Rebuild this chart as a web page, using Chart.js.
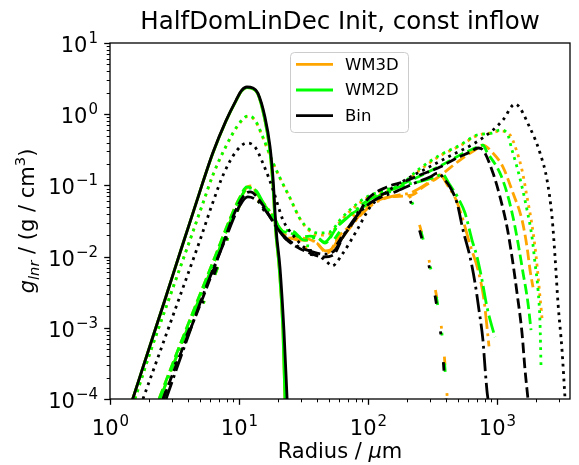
<!DOCTYPE html>
<html>
<head>
<meta charset="utf-8">
<script src="https://cdn.jsdelivr.net/npm/chart.js@4.4.0/dist/chart.umd.min.js"></script>
<style>
  html, body { margin: 0; padding: 0; background: #fff; }
</style>
</head>
<body>
<canvas id="sizeChart" width="579" height="465"></canvas>
<script>
// radius in um, g_lnr in g/cm^3

// solid
const rBinSolid = [1.5, 2.0, 2.67, 3.55, 4.72, 5.25, 6.28, 7.9, 9.5, 10.5, 11.5, 12.8, 14.0, 15.9, 17.4, 18.4, 19.4, 20.8, 22.3, 23.6];
const gBinSolid = [1.0e-4, 5.0e-4, 2.5e-3, 0.0125, 0.061, 0.111, 0.29, 0.80, 1.58, 2.17, 2.41, 2.33, 1.98, 0.91, 0.35, 0.119, 0.024, 0.0069, 9.3e-4, 1.0e-4];
const rWm2dSolid = [1.5, 2.0, 2.67, 3.55, 4.72, 5.25, 6.28, 7.9, 9.5, 10.5, 11.5, 12.8, 14.0, 15.7, 17.2, 18.2, 19.2, 20.5, 21.9, 22.7];
const gWm2dSolid = [1.0e-4, 5.0e-4, 2.5e-3, 0.0125, 0.061, 0.111, 0.285, 0.79, 1.55, 2.12, 2.36, 2.28, 1.93, 0.91, 0.35, 0.119, 0.024, 0.0069, 9.3e-4, 1.0e-4];
const rWm3dSolid = [1.5, 2.0, 2.67, 3.55, 4.72, 5.25, 6.28, 7.9, 9.5, 10.5, 11.5, 12.8, 14.0, 15.7, 17.2, 18.2, 19.2, 20.5, 21.9, 22.7];
const gWm3dSolid = [1.0e-4, 5.0e-4, 2.5e-3, 0.0125, 0.061, 0.111, 0.285, 0.79, 1.55, 2.12, 2.36, 2.28, 1.93, 0.91, 0.35, 0.119, 0.024, 0.0069, 9.3e-4, 1.0e-4];

// dotted
const rBinDot = [1.80, 2.44, 3.49, 4.99, 6.17, 7.65, 9.5, 11.5, 13.3, 15.3, 18.4, 20.0, 21.9, 26.2, 32.5, 38.8, 48.1, 52.6, 64.0, 82.2, 104, 136, 194, 287, 432, 675, 931, 1113, 1380, 1803, 2155, 2443, 2670, 2818, 2972, 3190, 3370];
const gBinDot = [1.0e-4, 4.6e-4, 2.8e-3, 0.0171, 0.053, 0.149, 0.30, 0.394, 0.346, 0.206, 0.086, 0.053, 0.0327, 0.0201, 0.0132, 0.0115, 0.0084, 0.0074, 0.0112, 0.0236, 0.0497, 0.078, 0.119, 0.175, 0.259, 0.394, 0.60, 0.83, 1.39, 0.64, 0.285, 0.119, 0.036, 0.0099, 0.0022, 4.9e-4, 1.0e-4];
const rWm2dDot = [1.56, 2.04, 2.92, 4.17, 5.26, 6.28, 7.79, 9.82, 11.7, 13.3, 15.3, 18.0, 20.8, 24.9, 29.7, 34.3, 41.0, 50.7, 60.7, 75, 98, 136, 177, 253, 362, 517, 700, 915, 1055, 1196, 1307, 1429, 1563, 1709, 1868, 1971, 2080, 2155, 2194];
const gWm2dDot = [1.0e-4, 4.4e-4, 2.8e-3, 0.0171, 0.057, 0.141, 0.334, 0.705, 0.944, 0.83, 0.478, 0.227, 0.127, 0.066, 0.034, 0.025, 0.0215, 0.0222, 0.0327, 0.048, 0.069, 0.086, 0.101, 0.174, 0.267, 0.369, 0.51, 0.544, 0.60, 0.544, 0.314, 0.181, 0.095, 0.045, 0.0188, 0.0081, 0.0034, 0.00117, 2.8e-4];
const rWm3dDot = [1.56, 2.04, 2.92, 4.17, 5.26, 6.28, 7.79, 9.82, 11.7, 13.3, 15.3, 18.0, 20.8, 24.9, 29.7, 34.3, 41.0, 50.7, 60.7, 75, 98, 136, 177, 253, 362, 517, 700, 915, 1055, 1262, 1429, 1563, 1709, 1868, 2005, 2155, 2233];
const gWm3dDot = [1.0e-4, 4.4e-4, 2.8e-3, 0.0171, 0.056, 0.139, 0.33, 0.69, 0.93, 0.82, 0.47, 0.225, 0.126, 0.066, 0.034, 0.024, 0.020, 0.021, 0.031, 0.046, 0.066, 0.082, 0.097, 0.165, 0.26, 0.36, 0.50, 0.55, 0.58, 0.51, 0.294, 0.164, 0.069, 0.0278, 0.0105, 0.0027, 0.00137];

// dashed
const rBinDash = [2.58, 3.49, 4.99, 7.12, 9.31, 11.1, 12.2, 15.3, 18.4, 22.7, 28.2, 35.5, 44.8, 53.6, 64, 82, 98, 140, 187, 253, 362, 490, 618, 713, 778, 931, 1055, 1196, 1307, 1429, 1563, 1648, 1738];
const gBinDash = [1.0e-4, 4.15e-4, 0.0021, 0.0115, 0.0423, 0.075, 0.081, 0.053, 0.0306, 0.0182, 0.0136, 0.0112, 0.0099, 0.0105, 0.0188, 0.036, 0.0624, 0.095, 0.112, 0.140, 0.181, 0.243, 0.294, 0.335, 0.314, 0.149, 0.069, 0.026, 0.0099, 0.0031, 8.4e-4, 2.6e-4, 1.0e-4];
const rWm2dDash = [2.40, 3.19, 4.56, 6.51, 8.51, 10.2, 11.5, 13.3, 15.3, 18.4, 20.8, 24.9, 29.7, 35.5, 41.0, 46.4, 57.5, 72.5, 91.5, 124, 177, 253, 362, 517, 675, 778, 836, 1055, 1196, 1330, 1455, 1592, 1738, 1835];
const gWm2dDash = [1.0e-4, 3.8e-4, 0.00196, 0.0099, 0.0337, 0.069, 0.095, 0.086, 0.0566, 0.036, 0.0236, 0.0215, 0.0188, 0.0194, 0.0182, 0.0155, 0.026, 0.0384, 0.0497, 0.073, 0.101, 0.1355, 0.187, 0.267, 0.335, 0.369, 0.294, 0.149, 0.078, 0.036, 0.0155, 0.0059, 0.00223, 9.3e-4];
const rWm3dDash = [2.40, 3.19, 4.56, 6.51, 8.51, 10.2, 12.2, 15.3, 18.4, 20.8, 24.9, 31.3, 40.2, 48.1, 60.7, 76.5, 98, 148, 219, 267, 343, 517, 675, 778, 915, 1113, 1330, 1563, 1709, 1803, 1901];
const gWm3dDash = [1.0e-4, 3.8e-4, 0.00196, 0.0099, 0.0337, 0.069, 0.098, 0.0566, 0.036, 0.0236, 0.0182, 0.0182, 0.0155, 0.0112, 0.0201, 0.0296, 0.0497, 0.069, 0.073, 0.095, 0.127, 0.227, 0.314, 0.369, 0.294, 0.181, 0.078, 0.0327, 0.0136, 0.0065, 0.0037];

// dash-dot
const rBinDashDot = [2.72, 3.81, 5.45, 7.79, 9.82, 11.7, 14.0, 17.4, 21.9, 28.2, 35.5, 46.4, 55.5, 66.3, 86.7, 113, 162, 231, 302, 349, 395, 432, 490, 545, 618, 675, 725, 778, 807, 836, 851];
const gBinDashDot = [1.0e-4, 5.7e-4, 0.0034, 0.0171, 0.0466, 0.069, 0.060, 0.036, 0.0201, 0.0141, 0.012, 0.0108, 0.0124, 0.0215, 0.0423, 0.0624, 0.081, 0.108, 0.131, 0.149, 0.119, 0.095, 0.0566, 0.0236, 0.0099, 0.0043, 0.00178, 6.7e-4, 2.8e-4, 1.3e-4, 1.0e-4];
const rWm2dDashDot = [2.44, 3.25, 4.67, 6.67, 8.7, 10.4, 11.7, 13.6, 15.6, 18.7, 21.2, 25.8, 32, 40, 46, 57.5, 72.5, 94.8, 136, 194, 277, 362, 375, 432, 500, 565, 640, 700, 765, 836, 915, 965];
const gWm2dDashDot = [1.0e-4, 3.8e-4, 0.002, 0.0099, 0.0337, 0.069, 0.092, 0.084, 0.055, 0.036, 0.024, 0.023, 0.017, 0.0185, 0.016, 0.026, 0.038, 0.058, 0.08, 0.101, 0.118, 0.14, 0.1445, 0.101, 0.0665, 0.0409, 0.0171, 0.0099, 0.0047, 0.00196, 0.00103, 7.4e-4];
const rWm3dDashDot = [2.44, 3.25, 4.67, 6.67, 8.7, 10.4, 12.0, 15.6, 18.7, 21.2, 25.8, 31, 38, 47, 55, 68, 85, 110, 148, 219, 300, 362, 417, 482, 545, 618, 713, 793, 836, 867];
const gWm3dDashDot = [1.0e-4, 3.8e-4, 0.002, 0.0099, 0.0337, 0.069, 0.094, 0.056, 0.035, 0.023, 0.018, 0.017, 0.0165, 0.012, 0.0135, 0.022, 0.036, 0.055, 0.069, 0.08, 0.112, 0.140, 0.098, 0.0624, 0.0327, 0.0146, 0.0065, 0.00246, 0.00103, 5.5e-4];

// loosely dash-dotted
const rBinLoose = [2.58, 3.25, 4.17, 5.65, 7.12, 9.31, 11.5, 14.0, 18.0, 23.6, 29.7, 38.8, 50.7, 66.3, 86.7, 113, 148, 187, 219, 253, 302, 343, 375, 402];
const gBinLoose = [1.0e-4, 3.3e-4, 0.001, 0.0031, 0.0095, 0.0384, 0.065, 0.0566, 0.0306, 0.0171, 0.0124, 0.0105, 0.0115, 0.0222, 0.045, 0.0665, 0.081, 0.086, 0.053, 0.0222, 0.0065, 0.0019, 5.5e-4, 1.0e-4];
const rWm2dLoose = [2.62, 3.3, 4.25, 5.75, 7.25, 9.5, 11.5, 14.2, 18.3, 24, 30, 39, 50, 64, 85, 112, 150, 190, 224, 258, 308, 350, 383, 410];
const gWm2dLoose = [1.0e-4, 3.3e-4, 0.001, 0.0031, 0.0095, 0.039, 0.08, 0.06, 0.033, 0.019, 0.015, 0.014, 0.015, 0.026, 0.048, 0.068, 0.082, 0.086, 0.053, 0.0222, 0.0065, 0.0019, 5.5e-4, 1.0e-4];
const rWm3dLoose = [2.62, 3.3, 4.25, 5.75, 7.25, 9.5, 11.8, 14.2, 18.3, 24, 30, 39, 50, 64, 85, 112, 150, 192, 226, 260, 310, 352, 385, 412];
const gWm3dLoose = [1.0e-4, 3.3e-4, 0.001, 0.0031, 0.0095, 0.039, 0.082, 0.06, 0.033, 0.019, 0.014, 0.013, 0.012, 0.024, 0.046, 0.066, 0.08, 0.084, 0.052, 0.022, 0.0064, 0.0019, 5.5e-4, 1.0e-4];

const legendNames = ['WM3D', 'WM2D', 'Bin'];
const chartTitle = 'HalfDomLinDec Init, const inflow';
const xMin = 1, xMax = 3680;
const yMin = 1e-4, yMax = 10;

const ORANGE = '#ffa500', GREEN = '#00ff00', BLACK = '#000000';
const LW = 2.8;
const dashStyles = {
  solid: [],
  dotted: [2.8, 4.6],
  dashed: [10.4, 4.5],
  dashdot: [17.9, 4.5, 2.8, 4.5],
  loose: [8.4, 28, 2.8, 28]
};

function toPoints(r, g) {
  return r.map((x, i) => ({ x: x, y: g[i] }));
}

function series(label, r, g, color, style, order) {
  return {
    label: label,
    data: toPoints(r, g),
    borderColor: color,
    backgroundColor: color,
    borderWidth: LW,
    borderDash: dashStyles[style],
    borderCapStyle: style === 'solid' ? 'square' : 'butt',
    borderJoinStyle: 'round',
    pointRadius: 0,
    cubicInterpolationMode: 'monotone',
    fill: false,
    order: order
  };
}

// orange under green under black
const datasets = [
  series('Bin', rBinSolid, gBinSolid, BLACK, 'solid', 0),
  series('Bin', rBinDot, gBinDot, BLACK, 'dotted', 0),
  series('Bin', rBinDash, gBinDash, BLACK, 'dashed', 0),
  series('Bin', rBinDashDot, gBinDashDot, BLACK, 'dashdot', 0),
  series('Bin', rBinLoose, gBinLoose, BLACK, 'loose', 0),
  series('WM2D', rWm2dSolid, gWm2dSolid, GREEN, 'solid', 1),
  series('WM2D', rWm2dDot, gWm2dDot, GREEN, 'dotted', 1),
  series('WM2D', rWm2dDash, gWm2dDash, GREEN, 'dashed', 1),
  series('WM2D', rWm2dDashDot, gWm2dDashDot, GREEN, 'dashdot', 1),
  series('WM2D', rWm2dLoose, gWm2dLoose, GREEN, 'loose', 1),
  series('WM3D', rWm3dSolid, gWm3dSolid, ORANGE, 'solid', 2),
  series('WM3D', rWm3dDot, gWm3dDot, ORANGE, 'dotted', 2),
  series('WM3D', rWm3dDash, gWm3dDash, ORANGE, 'dashed', 2),
  series('WM3D', rWm3dDashDot, gWm3dDashDot, ORANGE, 'dashdot', 2),
  series('WM3D', rWm3dLoose, gWm3dLoose, ORANGE, 'loose', 2)
];

const FONT = '"DejaVu Sans", "Liberation Sans", sans-serif';

// "10" with a raised exponent, like matplotlib's log tick labels
function drawPow(ctx, exp, x, y, align) {
  const base = '10';
  const sup = exp < 0 ? '\u2212' + (-exp) : String(exp);
  ctx.font = '21px ' + FONT;
  const wb = ctx.measureText(base).width;
  ctx.font = '15px ' + FONT;
  const ws = ctx.measureText(sup).width;
  const total = wb + ws + 1;
  const x0 = align === 'center' ? x - total / 2 : x - total;
  ctx.textAlign = 'left';
  ctx.textBaseline = 'alphabetic';
  ctx.font = '21px ' + FONT;
  ctx.fillText(base, x0, y);
  ctx.font = '15px ' + FONT;
  ctx.fillText(sup, x0 + wb + 1, y - 9);
}

// text made of pieces with own size/style/offset
function drawRich(ctx, parts, x, y, align) {
  let total = 0;
  parts.forEach(p => {
    ctx.font = (p.it ? 'italic ' : '') + p.sz + 'px ' + FONT;
    p.w = ctx.measureText(p.t).width;
    total += p.w;
  });
  let cx = align === 'center' ? x - total / 2 : x;
  ctx.textAlign = 'left';
  ctx.textBaseline = 'alphabetic';
  parts.forEach(p => {
    ctx.font = (p.it ? 'italic ' : '') + p.sz + 'px ' + FONT;
    ctx.fillText(p.t, cx, y + (p.dy || 0));
    cx += p.w;
  });
}

const decor = {
  id: 'decor',
  afterDraw(chart) {
    const ctx = chart.ctx;
    const xs = chart.scales.x, ys = chart.scales.y;
    const a = chart.chartArea;
    ctx.save();
    ctx.fillStyle = '#000';
    ctx.strokeStyle = '#000';

    // frame
    ctx.lineWidth = 1.3;
    ctx.strokeRect(a.left, a.top, a.right - a.left, a.bottom - a.top);

    // x ticks
    for (let e = 0; e <= 3; e++) {
      for (let k = 1; k <= 9; k++) {
        const v = k * Math.pow(10, e);
        if (v > xMax) break;
        const px = Math.round(xs.getPixelForValue(v)) + 0.5;
        ctx.lineWidth = k === 1 ? 1.3 : 1.0;
        ctx.beginPath();
        ctx.moveTo(px, a.bottom);
        ctx.lineTo(px, a.bottom + (k === 1 ? 5.8 : 3.3));
        ctx.stroke();
        if (k === 1) drawPow(ctx, e, px, 435, 'center');
      }
    }
    // y ticks
    for (let e = -4; e <= 1; e++) {
      for (let k = 1; k <= 9; k++) {
        const v = k * Math.pow(10, e);
        if (v > yMax * 1.0001) break;
        const py = Math.round(ys.getPixelForValue(v)) + 0.5;
        ctx.lineWidth = k === 1 ? 1.3 : 1.0;
        ctx.beginPath();
        ctx.moveTo(a.left, py);
        ctx.lineTo(a.left - (k === 1 ? 5.8 : 3.3), py);
        ctx.stroke();
        if (k === 1) drawPow(ctx, e, 98, py + 8, 'right');
      }
    }

    // title
    ctx.font = '24.5px ' + FONT;
    ctx.textAlign = 'center';
    ctx.textBaseline = 'alphabetic';
    ctx.fillText(chartTitle, (a.left + a.right) / 2, 29);

    // x label
    drawRich(ctx, [
      { t: 'Radius / ', sz: 21 },
      { t: '\u03bc', sz: 21, it: true },
      { t: 'm', sz: 21 }
    ], (a.left + a.right) / 2, 458, 'center');

    // y label
    ctx.save();
    ctx.translate(34, (a.top + a.bottom) / 2);
    ctx.rotate(-Math.PI / 2);
    drawRich(ctx, [
      { t: 'g', sz: 21, it: true },
      { t: 'lnr', sz: 14.7, it: true, dy: 4.5 },
      { t: ' / (g / cm', sz: 21 },
      { t: '3', sz: 14.7, dy: -9 },
      { t: ')', sz: 21 }
    ], 0, 0, 'center');
    ctx.restore();

    // legend
    const lx = 290, ly = 52, lw = 118, lh = 80;
    ctx.beginPath();
    ctx.roundRect(lx + 0.5, ly + 0.5, lw, lh, 4);
    ctx.fillStyle = 'rgba(255,255,255,0.8)';
    ctx.fill();
    ctx.strokeStyle = '#cccccc';
    ctx.lineWidth = 1;
    ctx.stroke();
    const cols = [ORANGE, GREEN, BLACK];
    legendNames.forEach((name, i) => {
      const yy = 64.3 + i * 25.7;
      ctx.strokeStyle = cols[i];
      ctx.lineWidth = LW;
      ctx.setLineDash([]);
      ctx.beginPath();
      ctx.moveTo(296, yy);
      ctx.lineTo(333, yy);
      ctx.stroke();
      ctx.fillStyle = '#000';
      ctx.font = '16.5px ' + FONT;
      ctx.textAlign = 'left';
      ctx.textBaseline = 'middle';
      ctx.fillText(name, 345, yy + 1);
    });

    ctx.restore();
  }
};

const ctx = document.getElementById('sizeChart').getContext('2d');
const sizeChart = new Chart(ctx, {
  type: 'line',
  data: { datasets: datasets },
  options: {
    responsive: false,
    animation: false,
    devicePixelRatio: 1,
    layout: { padding: { left: 110, top: 43, right: 9, bottom: 66 } },
    scales: {
      x: { type: 'logarithmic', min: xMin, max: xMax, display: false },
      y: { type: 'logarithmic', min: yMin, max: yMax, display: false }
    },
    plugins: {
      legend: { display: false },
      tooltip: { enabled: false }
    }
  },
  plugins: [decor]
});
</script>
</body>
</html>
